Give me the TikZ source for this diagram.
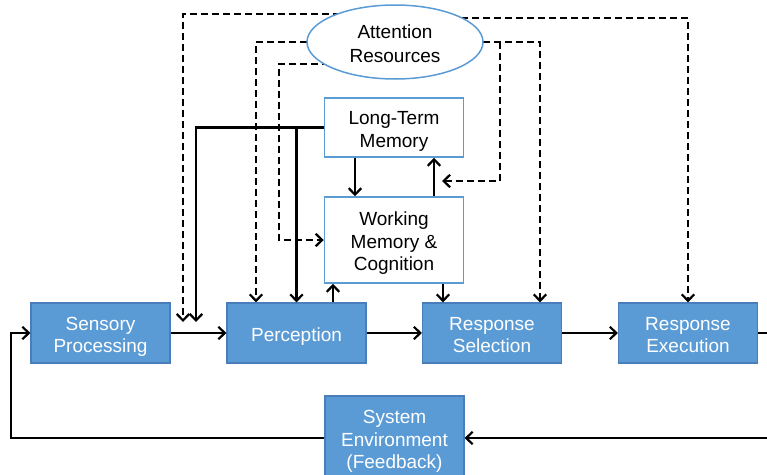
\documentclass[tikz,border=0pt]{standalone}
\usepackage{fontspec}
\setmainfont{Liberation Sans}
\usetikzlibrary{arrows.meta,shapes.geometric,backgrounds}
\definecolor{stagefill}{HTML}{5B9BD5}
\definecolor{stageedge}{HTML}{4A7EBB}
% text set a little low in its box, as in the slide
\newcommand{\boxtext}[1]{\raisebox{-3.8pt}[\height][\depth]{\begin{tabular}{@{}c@{}}#1\end{tabular}}}

\begin{document}
\begin{tikzpicture}[x=1pt,y=-1pt,
  stage/.style={draw=stageedge,fill=stagefill,text=white,line width=1.2pt,minimum width=139pt,minimum height=60pt,inner sep=0pt,font=\fontsize{19}{22.5}\selectfont},
  memory/.style={draw=stagefill,fill=white,line width=1.5pt,minimum width=139pt,inner sep=0pt,font=\fontsize{19}{22.5}\selectfont},
  flow/.style={line width=2.2pt,-{Straight Barb[length=6.5pt,width=12.5pt]}},
  attn/.style={flow,dash pattern=on 7pt off 4pt}]
\useasboundingbox (0,0) rectangle (767,474);

% Draw the processing stages
\node[stage] (sensory) at (100.5,333) {\boxtext{Sensory\\Processing}};
\node[stage] (percep) at (296.5,333) {\boxtext{Perception}};
\node[stage] (select) at (492,333) {\boxtext{Response\\Selection}};
\node[stage] (exec) at (688,333) {\boxtext{Response\\Execution}};
\node[stage,minimum height=84pt] (env) at (394.5,438) {\boxtext{System\\Environment\\(Feedback)}};

% Draw the memory boxes and the attention ellipse
\node[memory,minimum height=59pt] (ltm) at (394,127.5) {\boxtext{Long-Term\\Memory}};
\node[memory,minimum height=86pt] (wm) at (394,240) {\boxtext{Working\\Memory \&\\Cognition}};
\node[ellipse,draw=stagefill,fill=white,line width=1.5pt,minimum width=176pt,minimum height=74pt,inner sep=0pt,font=\fontsize{19}{23.5}\selectfont] (attn) at (395,42) {\boxtext{Attention\\Resources}};

\coordinate (gapA) at (183,322);
\coordinate (gapB) at (196,322);
\coordinate (split) at (500,42);
\coordinate (ltmtap) at (442,181);

% Main chain and feedback loop
\draw[flow] (sensory) -- (percep);
\draw[flow] (percep) -- (select);
\draw[flow] (select) -- (exec);
\draw[flow] (exec.east) -- ++(30,0) |- (env.east);
\draw[flow] (env.west) -| ([xshift=-19.5pt]sensory.west) -- (sensory.west);

% Memory connections
\draw[flow] (ltm.west) -| (percep.north);
\draw[flow] (ltm.west) -| (gapB);
\draw[flow] ([xshift=-39pt]ltm.south) -- ([xshift=-39pt]wm.north);
\draw[flow] ([xshift=40pt]wm.north) -- ([xshift=40pt]ltm.south);
\draw[flow] ([xshift=36.5pt]percep.north) -- ([xshift=-61pt]wm.south);
\draw[flow] ([xshift=49pt]wm.south) -- ([xshift=-49pt]select.north);

% Attention resources (dashed), behind the ellipse
\begin{pgfonlayer}{background}
\draw[attn] ([yshift=28pt]attn.center) -| (gapA);
\draw[attn] ([yshift=24pt]attn.center) -| (exec.north);
\draw[attn] (attn.center) -| ([xshift=-40.5pt]percep.north);
\draw[attn] (attn.center) -| ([xshift=48pt]select.north);
\draw[attn] (split) |- (ltmtap);
\draw[attn] ([yshift=-22pt]attn.center) -| ([xshift=-45pt]wm.west) -- (wm.west);
\end{pgfonlayer}
\end{tikzpicture}
\end{document}
